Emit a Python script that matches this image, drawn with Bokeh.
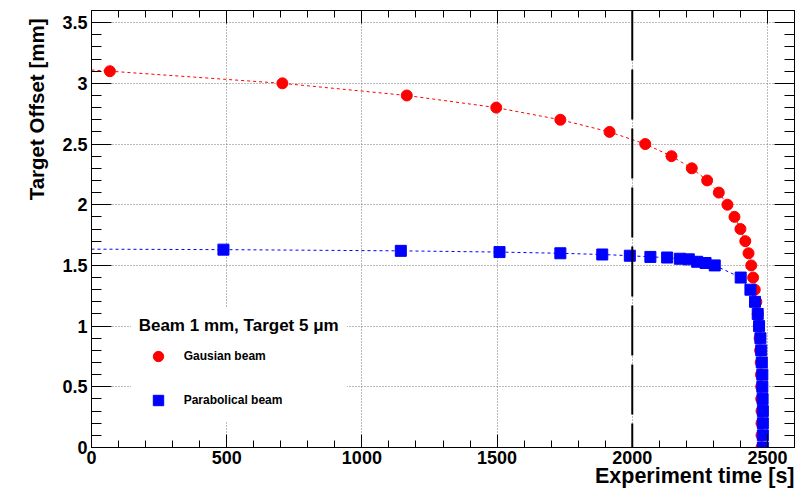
import math
from bokeh.plotting import figure
from bokeh.models import Range1d, FixedTicker, LinearAxis, Span, Legend, LegendItem, Title
from bokeh.embed import file_html
from bokeh.resources import INLINE

# ---- data ----
red_t = [68, 706, 1166, 1497, 1734, 1916, 2048, 2145, 2220, 2277,
         2320, 2352, 2378, 2400, 2418, 2430, 2440, 2447, 2453, 2459,
         2464, 2468, 2471, 2473, 2475, 2476, 2477, 2477, 2478, 2478, 2478, 2478]
red_y = [3.1, 3.0, 2.9, 2.8, 2.7, 2.6, 2.5, 2.4, 2.3, 2.2,
         2.1, 2.0, 1.9, 1.8, 1.7, 1.6, 1.5, 1.4, 1.3, 1.2,
         1.1, 1.0, 0.9, 0.8, 0.7, 0.6, 0.5, 0.4, 0.3, 0.2, 0.1, 0.0]
blue_t = [488, 1144, 1509, 1734, 1889, 1991, 2067, 2129, 2176, 2209,
          2240, 2271, 2305, 2401, 2437, 2454, 2464, 2469, 2474, 2477,
          2479, 2481, 2481, 2482, 2483, 2483, 2483, 2483]
blue_y = [1.63, 1.62, 1.61, 1.60, 1.59, 1.58, 1.57, 1.565, 1.555, 1.55,
          1.53, 1.52, 1.50, 1.4, 1.3, 1.2, 1.1, 1.0, 0.9, 0.8,
          0.7, 0.6, 0.5, 0.4, 0.3, 0.2, 0.1, 0.0]
# curve start values at t = 0
red_fit_start = 3.11
blue_fit_start = 1.634

x_ticks = [0, 500, 1000, 1500, 2000, 2500]
x_tick_labels = ["0", "500", "1000", "1500", "2000", "2500"]
x_minor = list(range(0, 2601, 100))
y_ticks = [0, 0.5, 1, 1.5, 2, 2.5, 3, 3.5]
y_tick_labels = ["0", "0.5", "1", "1.5", "2", "2.5", "3", "3.5"]
y_minor = [i / 10 for i in range(0, 37)]
marker_time = 2000

series_names = ["Gausian beam", "Parabolical beam"]
legend_title = "Beam 1 mm, Target 5 \u03bcm"
x_title = "Experiment time [s]"
y_title = "Target Offset [mm]"

FONT = "Liberation Sans"

p = figure(width=797, height=498, output_backend="svg", toolbar_location=None,
           x_range=Range1d(0, 2600), y_range=Range1d(0, 3.6),
           min_border_left=91, min_border_right=3, min_border_top=10, min_border_bottom=51)
p.outline_line_color = None
p.background_fill_color = "white"
p.border_fill_color = "white"

xt = FixedTicker(ticks=x_ticks, minor_ticks=x_minor)
yt = FixedTicker(ticks=y_ticks, minor_ticks=y_minor)

def style_axis(ax, ticker, major_len, minor_len, overrides, show):
    ax.ticker = ticker
    ax.major_tick_in = major_len
    ax.major_tick_out = 0
    ax.minor_tick_in = minor_len
    ax.minor_tick_out = 0
    ax.axis_line_color = "black"
    ax.major_tick_line_color = "black"
    ax.minor_tick_line_color = "black"
    ax.major_label_text_font = FONT
    ax.major_label_text_font_style = "bold"
    ax.major_label_text_color = "black"
    if show:
        ax.major_label_text_font_size = "18px"
        ax.major_label_overrides = overrides
    else:
        ax.major_label_text_font_size = "1px"
        ax.major_label_standoff = 0
        ax.major_label_overrides = {k: "" for k in overrides}

xo = {t: l for t, l in zip(x_ticks, x_tick_labels)}
yo = {t: l for t, l in zip(y_ticks, y_tick_labels)}
style_axis(p.xaxis[0], xt, 13, 7, xo, True)
p.xaxis[0].major_label_standoff = 3
style_axis(p.yaxis[0], yt, 20, 10, yo, True)
p.yaxis[0].major_label_standoff = 4

p.xgrid.ticker = xt
p.ygrid.ticker = yt
for g in (p.xgrid, p.ygrid):
    g.grid_line_color = "#777777"
    g.grid_line_dash = "1 2"
    g.grid_line_width = 1

top_ax = LinearAxis()
style_axis(top_ax, xt, 13, 7, xo, False)
p.add_layout(top_ax, "above")
right_ax = LinearAxis()
style_axis(right_ax, yt, 20, 10, yo, False)
p.add_layout(right_ax, "right")

# vertical dashed marker
p.add_layout(Span(location=marker_time, dimension="height", line_color="black",
                  line_width=2, line_dash="50 9"))

# curves
p.line([0] + red_t, [red_fit_start] + red_y, line_color="red", line_width=1, line_dash="3 3")
r_red = p.scatter(red_t, red_y, marker="circle", size=11, fill_color="red", line_color="red")
p.line([0] + blue_t, [blue_fit_start] + blue_y, line_color="blue", line_width=1, line_dash="3 3")
r_blue = p.scatter(blue_t, blue_y, marker="square", size=11, fill_color="blue", line_color="blue")

legend = Legend(items=[LegendItem(label=series_names[0], renderers=[r_red]),
                       LegendItem(label=series_names[1], renderers=[r_blue])],
                location=(39.7, 26.4), title=legend_title,
                title_text_font=FONT, title_text_font_style="bold", title_text_font_size="17px",
                title_text_color="black", title_standoff=7,
                label_text_font=FONT, label_text_font_style="bold", label_text_font_size="12px",
                label_text_color="black",
                glyph_width=38, glyph_height=26, label_standoff=7, spacing=18, padding=8,
                margin=0, border_line_alpha=0, background_fill_color="white",
                background_fill_alpha=1.0)
p.add_layout(legend, "center")

xt_title = Title(text=x_title, align="right", vertical_align="top", offset=0,
                 text_font=FONT, text_font_style="bold", text_font_size="21.5px",
                 text_color="black")
try:
    xt_title.standoff = -6
except Exception:
    xt_title.standoff = 0
p.add_layout(xt_title, "below")

yt_title = Title(text=y_title, align="right", vertical_align="bottom", offset=8,
                 standoff=23, text_font=FONT, text_font_style="bold",
                 text_font_size="20.5px", text_color="black")
p.add_layout(yt_title, "left")

open("out.html", "w").write(file_html(p, INLINE))
